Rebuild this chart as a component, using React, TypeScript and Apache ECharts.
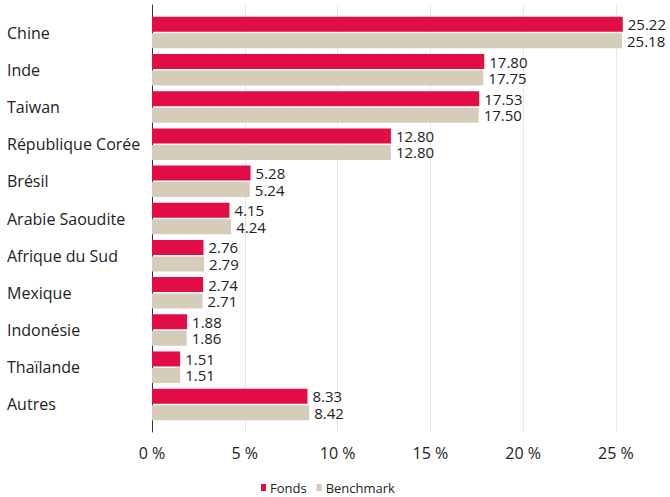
import React, { useEffect, useRef } from "react";
import * as echarts from "echarts";

const categories = [
  "Chine",
  "Inde",
  "Taiwan",
  "République Corée",
  "Brésil",
  "Arabie Saoudite",
  "Afrique du Sud",
  "Mexique",
  "Indonésie",
  "Thaïlande",
  "Autres",
];
const fonds = [25.22, 17.8, 17.53, 12.8, 5.28, 4.15, 2.76, 2.74, 1.88, 1.51, 8.33];
const benchmark = [25.18, 17.75, 17.5, 12.8, 5.24, 4.24, 2.79, 2.71, 1.86, 1.51, 8.42];
const seriesNames = ["Fonds", "Benchmark"];
const xMax = 27.75;

const FONT = "'Open Sans', 'Noto Sans', sans-serif";
const TEXT = "#222";
const GRID = "#e8e8e8";

export default function App() {
  const ref = useRef<HTMLDivElement>(null);
  useEffect(() => {
    document.body.style.margin = "0";
    const chart = echarts.init(ref.current!, null, { renderer: "svg" });
    const labelStyle = {
      show: true,
      position: "right" as const,
      distance: 5,
      color: TEXT,
      fontSize: 15,
      lineHeight: 15,
      fontFamily: FONT,
      formatter: (p: any) => p.value.toFixed(2),
    };
    chart.setOption({
      animation: false,
      textStyle: { fontFamily: FONT },
      legend: {
        data: seriesNames,
        left: 256,
        top: 476,
        icon: "rect",
        itemWidth: 5,
        itemHeight: 7,
        itemGap: 10,
        textStyle: { fontSize: 13, color: TEXT, fontFamily: FONT, padding: [0, 0, 0, -1] },
      },
      grid: [
        { left: 152, right: 0, top: 14, bottom: 74 },
        { left: 152, right: 0, top: 5, bottom: 65 },
      ],
      xAxis: [
        { type: "value", gridIndex: 0, min: 0, max: xMax, interval: 5, show: false },
        {
          type: "value",
          gridIndex: 1,
          min: 0,
          max: xMax,
          interval: 5,
          axisLine: { show: false },
          axisTick: { show: false },
          splitLine: {
            show: true,
            lineStyle: {
              color: [GRID, GRID, GRID, GRID, GRID, GRID, "rgba(0,0,0,0)"],
              width: 1,
            },
          },
          axisLabel: {
            color: TEXT,
            fontSize: 16,
            fontFamily: FONT,
            margin: 13,
            formatter: (v: number) => (Math.abs(v % 5) < 1e-9 ? `${v} %` : ""),
          },
        },
      ],
      yAxis: [
        {
          type: "category",
          gridIndex: 0,
          data: categories,
          inverse: true,
          axisLine: { show: false },
          axisTick: { show: false },
          axisLabel: {
            align: "left",
            margin: 145,
            color: TEXT,
            fontSize: 16,
            fontFamily: FONT,
          },
        },
        {
          type: "value",
          gridIndex: 1,
          min: 0,
          max: 1,
          axisLine: { show: true, lineStyle: { color: "#333", width: 1 } },
          axisTick: { show: false },
          axisLabel: { show: false },
          splitLine: { show: false },
        },
      ],
      series: [
        {
          name: seriesNames[0],
          type: "bar",
          xAxisIndex: 0,
          yAxisIndex: 0,
          data: fonds,
          barWidth: 15,
          barGap: "10%",
          itemStyle: { color: "#E30D45" },
          label: labelStyle,
        },
        {
          name: seriesNames[1],
          type: "bar",
          xAxisIndex: 0,
          yAxisIndex: 0,
          data: benchmark,
          barWidth: 15,
          barGap: "10%",
          itemStyle: { color: "#D5CDBA" },
          label: labelStyle,
        },
      ],
    });
    return () => chart.dispose();
  }, []);
  return <div ref={ref} style={{ width: 670, height: 497 }} />;
}
